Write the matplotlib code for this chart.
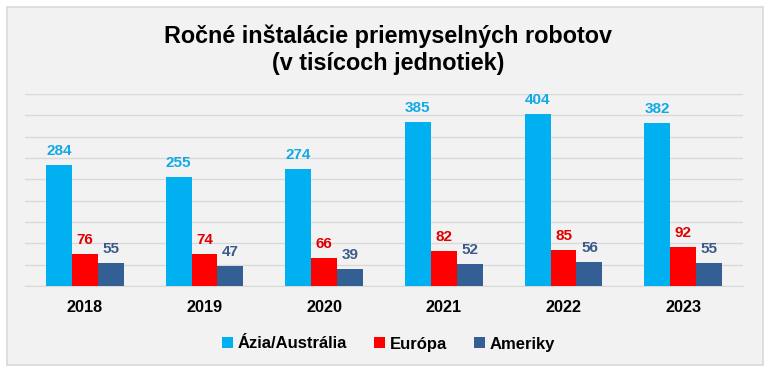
import matplotlib.pyplot as plt
import numpy as np
from matplotlib.patches import Rectangle

plt.rcParams['font.family'] = ['Liberation Sans', 'DejaVu Sans']

# data
years = ['2018', '2019', '2020', '2021', '2022', '2023']
series = ['Ázia/Austrália', 'Európa', 'Ameriky']
asia = [284, 255, 274, 385, 404, 382]
europe = [76, 74, 66, 82, 85, 92]
americas = [55, 47, 39, 52, 56, 55]

bar_colors = ['#00B0F0', '#FF0000', '#335F94']
label_colors = ['#12A9E6', '#E00000', '#3A5A8A']

fig = plt.figure(figsize=(7.77, 3.76), dpi=100)

# light panel with border
fig.patches.append(Rectangle((7 / 777, 1 - 365 / 376), 756 / 777, 358 / 376,
                             transform=fig.transFigure, facecolor='#F2F2F2',
                             edgecolor='#D9D9D9', linewidth=1.2, zorder=-10))

ax = fig.add_axes([25 / 777, 1 - 286 / 376, 718 / 777, 192 / 376])
ax.set_facecolor('none')
ax.set_zorder(1)

x = np.arange(len(years))
w = 0.217
for i, (vals, name) in enumerate(zip([asia, europe, americas], series)):
    pos = x + (i - 1) * w
    bars = ax.bar(pos, vals, width=w, color=bar_colors[i], label=name, zorder=3)
    for b, v in zip(bars, vals):
        ax.annotate(str(v), (b.get_x() + b.get_width() / 2, v), xytext=(0, 5),
                    textcoords='offset points', ha='center', va='bottom',
                    fontsize=11, fontweight='bold', color=label_colors[i])

ax.set_ylim(0, 450)
ax.set_xlim(-0.5, len(years) - 0.5)
ax.set_yticks(np.arange(0, 451, 50))
ax.yaxis.grid(True, color='#D9D9D9', linewidth=1, zorder=0)
ax.set_axisbelow(True)
ax.tick_params(axis='y', left=False, labelleft=False)
ax.tick_params(axis='x', length=0, pad=10)
ax.set_xticks(x)
ax.set_xticklabels(years, fontsize=11.7, fontweight='bold')
for s in ['top', 'left', 'right']:
    ax.spines[s].set_visible(False)
ax.spines['bottom'].set_color('#D9D9D9')

fig.text(0.5, 1 - 50 / 376, 'Ročné inštalácie priemyselných robotov\n(v tisícoch jednotiek)',
         ha='center', va='center', fontsize=16.8, fontweight='bold', linespacing=1.22)

fig.legend(loc='center', bbox_to_anchor=(0.5, 1 - 344 / 376), ncol=3, frameon=False,
           prop={'weight': 'bold', 'size': 12}, handlelength=0.65, handleheight=0.65,
           handletextpad=0.3, columnspacing=1.6)

fig.savefig('out.png', dpi=100, facecolor='white')
